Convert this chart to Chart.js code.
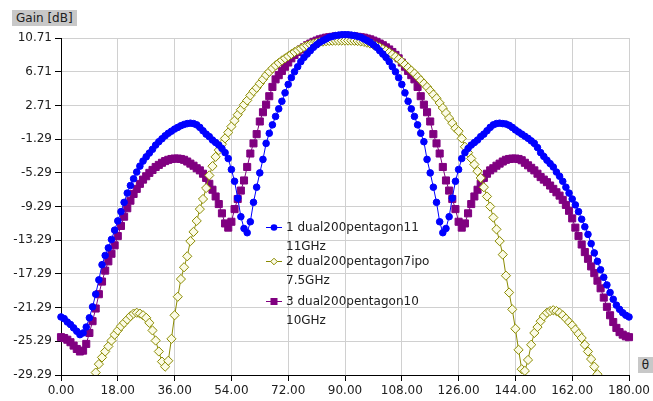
<!DOCTYPE html>
<html>
<head>
<meta charset="utf-8">
<script src="https://cdn.jsdelivr.net/npm/chart.js@4/dist/chart.umd.min.js"></script>
<style>
  body { margin: 0; background: #fff; }
  #wrap { position: relative; width: 653px; height: 401px; font-family: 'DejaVu Sans', sans-serif; font-size: 12px; color: #202020; }
  #chart { position: absolute; left: 0; top: 0; }
  .tag { position: absolute; background: #c8c8c8; line-height: 16px; height: 16px; }
  .leg { position: absolute; line-height: 14px; white-space: nowrap; }
  .swatch { position: absolute; }
</style>
</head>
<body>
<div id="wrap">
  <canvas id="chart" width="653" height="401"></canvas>
  <div class="tag" style="left:12px;top:10px;padding:0 4px;">Gain [dB]</div>
  <div class="tag" style="left:638px;top:357px;width:15px;text-align:center;">θ</div>
  <div id="legend"></div>
</div>
<script>
// ── Data ─────────────────────────────────────────
const thetaDeg = [
  0, 1, 2, 3, 4, 5, 6, 7, 8, 9, 10, 11, 12, 13, 14, 15, 16, 17, 18, 19,
  20, 21, 22, 23, 24, 25, 26, 27, 28, 29, 30, 31, 32, 33, 34, 35, 36, 37, 38, 39,
  40, 41, 42, 43, 44, 45, 46, 47, 48, 49, 50, 51, 52, 53, 54, 55, 56, 57, 58, 59,
  60, 61, 62, 63, 64, 65, 66, 67, 68, 69, 70, 71, 72, 73, 74, 75, 76, 77, 78, 79,
  80, 81, 82, 83, 84, 85, 86, 87, 88, 89, 90, 91, 92, 93, 94, 95, 96, 97, 98, 99,
  100, 101, 102, 103, 104, 105, 106, 107, 108, 109, 110, 111, 112, 113, 114, 115, 116, 117, 118, 119,
  120, 121, 122, 123, 124, 125, 126, 127, 128, 129, 130, 131, 132, 133, 134, 135, 136, 137, 138, 139,
  140, 141, 142, 143, 144, 145, 146, 147, 148, 149, 150, 151, 152, 153, 154, 155, 156, 157, 158, 159,
  160, 161, 162, 163, 164, 165, 166, 167, 168, 169, 170, 171, 172, 173, 174, 175, 176, 177, 178, 179,
  180
];

// 1 dual200pentagon11 – 11GHz
const gain11GHz = [
  -22.4, -22.6, -23.0, -23.3, -23.7, -24.1, -24.5, -24.3, -23.6, -22.5,
  -21.2, -19.7, -18.0, -16.2, -15.1, -14.2, -13.2, -12.1, -11.0, -9.9,
  -8.8, -7.7, -6.8, -6.0, -5.2, -4.5, -3.9, -3.4, -2.95, -2.5,
  -2.0, -1.6, -1.25, -0.9, -0.6, -0.35, -0.1, 0.1, 0.3, 0.45,
  0.55, 0.6, 0.55, 0.4, 0.1, -0.3, -0.7, -1.0, -1.4, -1.7,
  -2.0, -2.4, -2.9, -3.6, -4.9, -6.3, -8.3, -10.5, -11.9, -12.4,
  -11.1, -8.8, -7.0, -5.3, -3.7, -1.8, -0.6, 0.4, 1.4, 2.3,
  3.2, 4.2, 5.2, 6.0, 6.7, 7.3, 7.9, 8.4, 8.8, 9.2,
  9.6, 9.9, 10.2, 10.4, 10.6, 10.8, 10.9, 11.0, 11.05, 11.1,
  11.1, 11.1, 11.05, 11.0, 10.9, 10.8, 10.6, 10.4, 10.2, 9.9,
  9.6, 9.2, 8.8, 8.4, 7.9, 7.3, 6.7, 6.0, 5.2, 4.2,
  3.2, 2.3, 1.4, 0.4, -0.6, -1.6, -3.7, -5.3, -7.0, -8.8,
  -11.1, -12.4, -11.9, -10.5, -8.3, -6.3, -4.9, -3.6, -2.9, -2.4,
  -2.0, -1.7, -1.4, -1.0, -0.7, -0.3, 0.1, 0.4, 0.55, 0.6,
  0.55, 0.5, 0.35, 0.1, -0.2, -0.45, -0.7, -0.95, -1.2, -1.5,
  -1.8, -2.3, -2.9, -3.35, -3.8, -4.2, -4.6, -5.2, -5.7, -6.3,
  -7.0, -7.7, -8.4, -9.1, -9.9, -10.8, -11.7, -12.6, -13.7, -14.8,
  -15.8, -16.8, -17.7, -18.6, -19.5, -20.3, -21.0, -21.5, -21.9, -22.2,
  -22.4
];

// 2 dual200pentagon7ipo – 7.5GHz (null = below the plotted range)
const gain7p5GHz = [
  null, null, null, null, null, null, null, null, null, -32.5,
  -30.8, -29.0, -28.0, -27.2, -26.5, -25.9, -25.2, -24.5, -24.0, -23.5,
  -23.1, -22.7, -22.3, -22.0, -21.9, -22.0, -22.2, -22.5, -23.1, -24.0,
  -25.2, -26.5, -27.7, -28.3, -27.6, -25.0, -22.2, -20.0, -17.9, -16.5,
  -15.2, -13.4, -12.3, -11.0, -9.6, -8.4, -7.1, -5.6, -4.5, -3.4,
  -2.6, -1.9, -1.2, -0.5, 0.2, 0.9, 1.6, 2.2, 2.8, 3.3,
  3.9, 4.4, 4.8, 5.3, 5.8, 6.3, 6.7, 7.1, 7.45, 7.75,
  8.05, 8.3, 8.55, 8.8, 9.05, 9.25, 9.45, 9.65, 9.8, 9.95,
  10.05, 10.15, 10.22, 10.28, 10.33, 10.36, 10.38, 10.4, 10.4, 10.4,
  10.4, 10.4, 10.4, 10.38, 10.35, 10.3, 10.25, 10.15, 10.05, 9.9,
  9.75, 9.6, 9.4, 9.2, 9.0, 8.75, 8.5, 8.2, 7.9, 7.55,
  7.2, 6.85, 6.5, 6.1, 5.7, 5.3, 4.9, 4.45, 4.0, 3.55,
  3.0, 2.4, 1.8, 1.2, 0.6, 0.0, -0.35, -1.2, -2.2, -2.9,
  -3.6, -4.3, -5.1, -5.9, -7.0, -8.1, -9.3, -10.6, -12.0, -13.4,
  -15.0, -17.5, -19.5, -21.5, -23.8, -26.3, -28.6, -28.8, -27.5, -25.7,
  -24.3, -23.6, -22.9, -22.3, -21.9, -21.7, -21.6, -21.7, -21.9, -22.2,
  -22.6, -23.0, -23.4, -23.9, -24.4, -24.9, -25.7, -26.5, -27.4, -28.3,
  -29.2, -30.5, -32.0, null, null, null, null, null, null, null,
  null
];

// 3 dual200pentagon10 – 10GHz
const gain10GHz = [
  -24.8, -24.9, -25.1, -25.4, -25.8, -26.2, -26.5, -26.4, -25.6, -24.3,
  -22.9, -21.4, -19.7, -18.2, -16.9, -15.8, -14.9, -13.9, -12.8, -11.6,
  -10.5, -9.5, -8.6, -7.8, -7.2, -6.6, -6.1, -5.7, -5.3, -4.95,
  -4.6, -4.35, -4.1, -3.9, -3.75, -3.65, -3.6, -3.6, -3.65, -3.75,
  -3.95, -4.2, -4.45, -4.75, -5.0, -5.4, -5.9, -6.6, -7.3, -8.1,
  -9.0, -10.1, -11.3, -11.8, -11.1, -9.6, -8.4, -7.4, -6.2, -4.6,
  -3.0, -1.8, -0.7, 0.8, 1.9, 2.8, 3.8, 4.9, 5.8, 6.3,
  6.8, 7.3, 7.8, 8.3, 8.7, 9.05, 9.35, 9.6, 9.85, 10.05,
  10.25, 10.4, 10.55, 10.65, 10.75, 10.8, 10.85, 10.9, 10.9, 10.95,
  10.95, 10.95, 10.9, 10.9, 10.85, 10.8, 10.75, 10.65, 10.55, 10.4,
  10.25, 10.05, 9.85, 9.6, 9.35, 9.05, 8.7, 8.3, 7.8, 7.3,
  6.8, 6.3, 5.8, 4.9, 3.8, 2.8, 1.9, 0.8, -0.7, -1.8,
  -3.0, -4.6, -6.2, -7.4, -8.4, -9.6, -11.1, -11.8, -11.3, -10.1,
  -9.0, -8.1, -7.3, -6.6, -5.9, -5.4, -5.0, -4.75, -4.45, -4.2,
  -3.95, -3.75, -3.65, -3.6, -3.6, -3.65, -3.8, -4.1, -4.4, -4.7,
  -5.0, -5.4, -5.8, -6.1, -6.4, -6.8, -7.2, -7.6, -8.0, -8.5,
  -9.1, -9.8, -10.7, -11.8, -12.8, -13.8, -14.7, -15.5, -16.4, -17.2,
  -18.1, -19.0, -20.1, -21.2, -22.2, -23.0, -23.7, -24.2, -24.5, -24.7,
  -24.8
];

const seriesNames = ['1 dual200pentagon11', '2 dual200pentagon7ipo', '3 dual200pentagon10'];
const seriesFreqs = ['11GHz', '7.5GHz', '10GHz'];

const xTicks = [0, 18, 36, 54, 72, 90, 108, 126, 144, 162, 180];
const yTicks = [-29.29, -25.29, -21.29, -17.29, -13.29, -9.29, -5.29, -1.29, 2.71, 6.71, 10.71];

// ── Helpers ─────────────────────────────────────
const toPoints = (vals) => thetaDeg.map((t, i) => ({ x: t, y: vals[i] }));
const FONT = { family: "'DejaVu Sans', sans-serif", size: 12 };

const styles = [
  { color: '#0000ff', fill: '#0000ff', point: 'circle', radius: 3.3, clip: false },
  { color: '#8a8a00', fill: '#fbfbe6', point: 'rectRot', radius: 4.6, clip: { left: false, top: false, right: false, bottom: 0 } },
  { color: '#800080', fill: '#800080', point: 'rect', radius: 5, clip: false },
];
const seriesValues = [gain11GHz, gain7p5GHz, gain10GHz];

const datasets = seriesValues.map((vals, i) => ({
  label: seriesNames[i],
  data: toPoints(vals),
  showLine: true,
  borderColor: styles[i].color,
  borderWidth: 1,
  pointStyle: styles[i].point,
  pointRadius: styles[i].radius,
  pointBackgroundColor: styles[i].fill,
  pointBorderColor: styles[i].color,
  pointBorderWidth: 1,
  spanGaps: false,
  clip: styles[i].clip,
}));

new Chart(document.getElementById('chart').getContext('2d'), {
  type: 'scatter',
  data: { datasets },
  options: {
    responsive: false,
    animation: false,
    layout: { padding: { top: 38, right: 20, left: 0, bottom: 0 } },
    plugins: { legend: { display: false }, tooltip: { enabled: false } },
    scales: {
      x: {
        type: 'linear',
        min: 0,
        max: 180,
        afterFit: (s) => { s.height = 26; },
        afterBuildTicks: (s) => { s.ticks = xTicks.map((v) => ({ value: v })); },
        grid: { color: '#d0d0d0', tickColor: '#000', tickLength: 6 },
        border: { color: '#000' },
        ticks: { font: FONT, color: '#202020', padding: 3, maxRotation: 0, callback: (v) => Number(v).toFixed(2) },
      },
      y: {
        type: 'linear',
        min: -29.29,
        max: 10.71,
        afterFit: (s) => { s.width = 61; },
        afterBuildTicks: (s) => { s.ticks = yTicks.map((v) => ({ value: v })); },
        grid: { color: '#d0d0d0', tickColor: '#000', tickLength: 6 },
        border: { color: '#000' },
        ticks: { font: FONT, color: '#202020', padding: 3, callback: (v) => Number(v).toFixed(2) },
      },
    },
  },
});

// ── HTML legend (two-line entries) ──────────────
const legendRows = [227, 261, 301];
const legendEl = document.getElementById('legend');
legendEl.innerHTML = seriesNames.map((name, i) => {
  const st = styles[i];
  const y = legendRows[i];
  let marker;
  if (st.point === 'circle') {
    marker = `<circle cx="8" cy="4.5" r="3.3" fill="${st.fill}" />`;
  } else if (st.point === 'rect') {
    marker = `<rect x="4.5" y="1" width="7" height="7" fill="${st.fill}" />`;
  } else {
    marker = `<polygon points="8,1.2 11.3,4.5 8,7.8 4.7,4.5" fill="${st.fill}" stroke="${st.color}" stroke-width="1" />`;
  }
  return `
    <svg class="swatch" style="left:266px;top:${y - 4}px" width="16" height="9">
      <line x1="0" y1="4.5" x2="16" y2="4.5" stroke="${st.color}" stroke-width="1" />${marker}
    </svg>
    <div class="leg" style="left:286px;top:${y - 7}px">${name}</div>
    <div class="leg" style="left:286px;top:${y + 12}px">${seriesFreqs[i]}</div>`;
}).join('');
</script>
</body>
</html>
